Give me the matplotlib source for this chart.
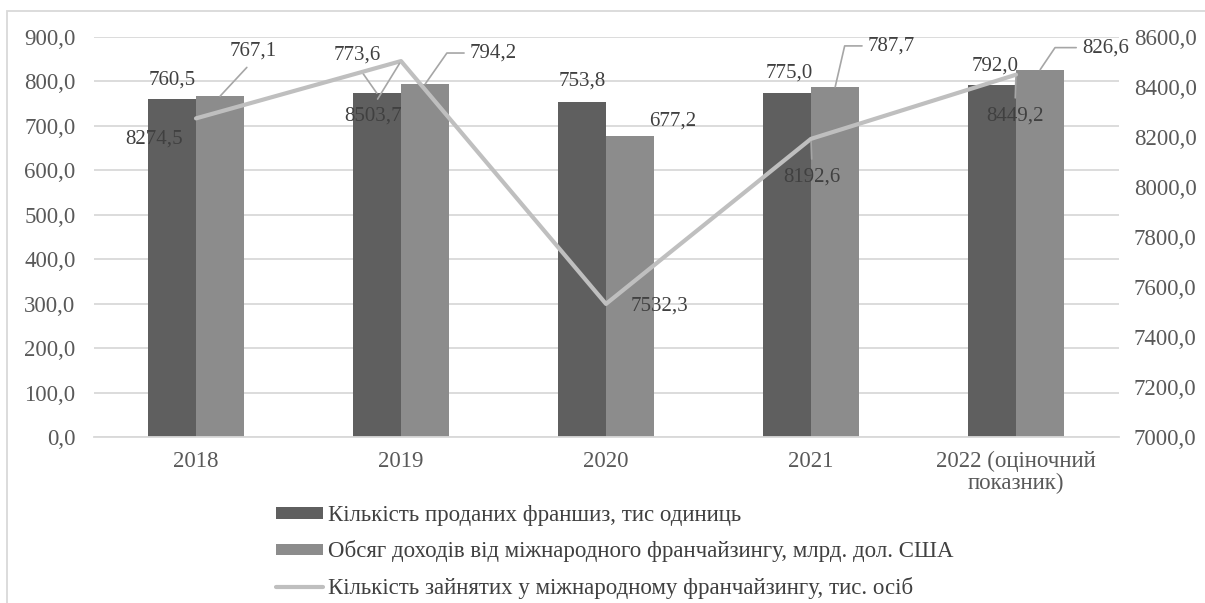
import numpy as np
import matplotlib.pyplot as plt
from matplotlib.ticker import FuncFormatter, MultipleLocator
from matplotlib.patches import Rectangle

FAM = ['Liberation Serif', 'DejaVu Serif']
plt.rcParams['font.family'] = FAM

years = ['2018', '2019', '2020', '2021', '2022 (оціночний\nпоказник)']
franchises_sold = [760.5, 773.6, 753.8, 775.0, 792.0]
revenue = [767.1, 794.2, 677.2, 787.7, 826.6]
employed = [8274.5, 8503.7, 7532.3, 8192.6, 8449.2]

names = ['Кількість проданих франшиз, тис одиниць',
         'Обсяг доходів від міжнародного франчайзингу, млрд. дол. США',
         'Кількість зайнятих у міжнародному франчайзингу, тис. осіб']

c_dark = '#5f5f5f'
c_light = '#8c8c8c'
c_line = '#bfbfbf'
c_grid = '#d9d9d9'
c_text = '#404040'
c_tick = '#595959'
c_leader = '#a6a6a6'

# label offsets in pixels from the anchor, and leader style
off_dark = [(0, 19), (-20, 38), (0, 21), (2, 20), (3, 19)]
lead_dark = [None, 'bottom', None, None, None]
off_light = [(33, 45), (68, 31), (42, 15), (56, 41), (65, 22)]
lead_light = ['bottom', 55, None, 77, 56]
off_line = [(-42, -21), (-28, -55), (54, -2), (1, -38), (-1, -41)]
lead_line = [None, 'top', None, 'top', 'top']

fs = 15
fs_tick = 16.5
fs_leg = 16.5
comma = FuncFormatter(lambda v, p: f'{v:.1f}'.replace('.', ','))

fig = plt.figure(figsize=(12.05, 6.03), dpi=100)
ax = fig.add_axes([93.5 / 1205, 1 - 437 / 603, 1025 / 1205, 400 / 603])
ax2 = ax.twinx()

x = np.arange(len(years))
w = 0.236
b1 = ax.bar(x - w / 2, franchises_sold, w, color=c_dark, label=names[0], zorder=2)
b2 = ax.bar(x + w / 2, revenue, w, color=c_light, label=names[1], zorder=2)
ln, = ax2.plot(x, employed, color=c_line, lw=3, label=names[2], solid_capstyle='round')

ax.set_xlim(-0.5, len(years) - 0.5)
ax.set_ylim(0, 900)
ax2.set_ylim(7000, 8600)
ax.yaxis.set_major_locator(MultipleLocator(100))
ax2.yaxis.set_major_locator(MultipleLocator(200))
ax.yaxis.set_major_formatter(comma)
ax2.yaxis.set_major_formatter(comma)
ax.set_axisbelow(True)
ax.grid(axis='y', color=c_grid, lw=1.3)

for a in (ax, ax2):
    for s in a.spines.values():
        s.set_visible(False)
    a.tick_params(length=0, labelsize=fs_tick, labelcolor=c_tick)
ax.spines['bottom'].set_visible(True)
ax.spines['bottom'].set_color(c_grid)
ax.spines['bottom'].set_linewidth(1.3)
ax.tick_params(axis='y', pad=13)
ax2.tick_params(axis='y', pad=11)
ax.tick_params(axis='x', pad=10)
ax.set_xticks(x)
ax.set_xticklabels(years, linespacing=1.05)


def put_label(axis, xv, yv, off, lead):
    txt = f'{yv:.1f}'.replace('.', ',')
    kw = dict(xy=(xv, yv), xytext=off, textcoords='offset pixels',
              ha='center', va='center', fontsize=fs, color=c_text,
              family=FAM, zorder=5)
    if lead == 'bottom':
        kw['arrowprops'] = dict(arrowstyle='-', color=c_leader, lw=1.2,
                                relpos=(0.5, 0), shrinkA=4, shrinkB=0)
    elif lead == 'top':
        kw['arrowprops'] = dict(arrowstyle='-', color=c_leader, lw=1.2,
                                relpos=(0.5, 1), shrinkA=4, shrinkB=2)
    elif lead is not None:
        kw['arrowprops'] = dict(arrowstyle='-', color=c_leader, lw=1.2,
                                relpos=(0, 0.5), shrinkA=2, shrinkB=0,
                                connectionstyle=f'angle,angleA=0,angleB={lead},rad=0')
    axis.annotate(txt, **kw)


for i in range(len(years)):
    put_label(ax, x[i] - w / 2, franchises_sold[i], off_dark[i], lead_dark[i])
    put_label(ax, x[i] + w / 2, revenue[i], off_light[i], lead_light[i])
    put_label(ax2, x[i], employed[i], off_line[i], lead_line[i])

leg = fig.legend([b1, b2, ln], names, loc='upper left',
                 bbox_to_anchor=(267 / 1205, 1 - 496 / 603), frameon=False,
                 prop={'family': FAM, 'size': fs_leg}, labelcolor=c_text,
                 handlelength=2.05, handleheight=0.37,
                 handletextpad=0.2, labelspacing=0.62, borderaxespad=0)

# outer chart frame
fig.add_artist(Rectangle((7 / 1205, -0.1), 1.2, 1.1 - 11 / 603,
                         transform=fig.transFigure, fill=False,
                         edgecolor=c_grid, lw=1.3))

# tick labels in the same serif face
fig.canvas.draw()
for t in ax.get_xticklabels() + ax.get_yticklabels() + ax2.get_yticklabels():
    t.set_fontfamily(FAM)

fig.savefig('out.png', dpi=100)
